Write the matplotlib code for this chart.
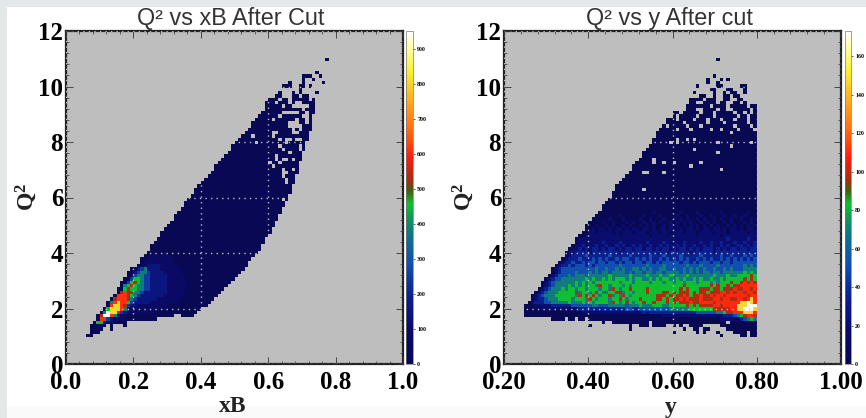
import numpy as np
import matplotlib
matplotlib.use('Agg')
import matplotlib.pyplot as plt
from matplotlib.colors import LinearSegmentedColormap
from matplotlib.patches import Rectangle
from matplotlib.ticker import MultipleLocator

# cell maps: (row, first column, levels), '.' = empty bin
# 100 x 100 bins per panel, levels index into the *_LEVELS lists below
LEFT_LEVELS = [20, 85, 145, 245, 380, 455, 530, 610, 810, 950]
RIGHT_LEVELS = [3, 20, 35, 52, 69, 83, 97, 110, 147, 173]
Z = '0000000000'

LEFT_ROWS = [
    (91, 70, '.......0'),
    (87, 70, '....0'),
    (86, 70, '000..0'),
    (85, 70, '0..0'),
    (84, 60, '......0... 0.....0'),
    (83, 60, '....000..0 0.0'),
    (82, 60, '.........0'),
    (81, 60, '...0...0.0 ....0'),
    (80, 60, '..00...00. 00'),
    (79, 60, '000.00.000 00.0'),
    (78, 50, '.........0 00.000.0.. 0000'),
    (77, 50, '.........0 0000.00... ..00'),
    (76, 50, '.........0 0000000000 .000'),
    (75, 50, '........00 0000.....0 0.00'),
    (74, 50, '.......000 000.000000 ..0'),
    (73, 50, '......0000 0.000000.0 0.0'),
    (72, 50, '.....00000 000000...0 0.0'),
    (71, 50, '.....00000 000000.... 000'),
    (70, 50, '....000000 0000000.0. 000'),
    (69, 50, '...0000000 0..0000..0 00'),
    (68, 50, '..000.0000 0.00000000 00'),
    (67, 50, '.000000000 000.0..0.. 00'),
    (66, 50, '000000.000 00000.0000 0'),
    (65, 40, '.........0 0000000000 000.00000. 0'),
    (64, 40, '.........0 0000000000 0000.0000. 0'),
    (63, 40, '........00 0000000000 000000.000'),
    (62, 40, '.......000 0000000000 00.0000000'),
    (61, 40, '......0000 0000000000 00.0..0.00'),
    (60, 40, '.....00000 0000000000 .00.00000'),
    (59, 40, '....000000 0000000000 0.0000000'),
    (58, 40, '....000000 0000000000 0000.00.0'),
    (57, 40, '...0000000 0000000000 0000..000'),
    (56, 40, '..00000000 0000000000 0000.000'),
    (55, 40, '.000000000 0000000000 00000.00'),
    (54, 40, '0000000000 0000000000 00000.00'),
    (53, 30, '.........0 0000000000 0000000000 0000000'),
    (52, 30, '........00 0000000000 0000000000 0000000'),
    (51, 30, '........00 0000000000 0000000000 0000000'),
    (50, 30, '.......000 0000000000 0000000000 000000'),
    (49, 30, '......0000 0000000000 0000000000 0000.0'),
    (48, 30, '.....00000 0000000000 0000000000 00000'),
    (47, 30, '.....00000 0000000000 0000000000 00000'),
    (46, 30, '....000000 0000000000 0000000000 0000'),
    (45, 30, '...0000000 0000000000 0000000000 0000'),
    (44, 30, '..00000000 0000000000 0000000000 000'),
    (43, 30, '..00000000 0000000000 0000000000 000'),
    (42, 30, '.000000000 0000000000 0000000000 00'),
    (41, 30, '0000000000 0000000000 0000000000 00'),
    (40, 20, '.........0 0000000000 0000000000 0000000000 0'),
    (39, 20, '........00 0000000000 0000000000 0000000000 0'),
    (38, 20, '........00 0000000000 0000000000 0000000000'),
    (37, 20, '.......000 0000000000 0000000000 000000000'),
    (36, 20, '......0000 0000000000 0000000000 000000000'),
    (35, 20, '.....00000 0000000000 0000000000 00000000'),
    (34, 20, '.....00000 0000000000 0000000000 00000000'),
    (33, 20, '....000000 0000000000 0000000000 0000000'),
    (32, 20, '...0011111 1000000000 0000000000 000000'),
    (31, 20, '..00111111 1100000000 0000000000 00000'),
    (30, 20, '..01111111 1100000000 0000000000 0000'),
    (29, 20, '.001222211 1110000000 0000000000 0000'),
    (28, 10, '.........0 0234222211 1111000000 0000000000 000'),
    (27, 10, '........00 2344322221 1111000000 0000000000 00'),
    (26, 10, '........00 3443322222 1111100000 0000000000 0'),
    (25, 10, '.......003 5543322222 1111100000 0000000000'),
    (24, 10, '......0035 6543322222 1111110000 000000000'),
    (23, 10, '......0456 5443322222 1111110000 00000000'),
    (22, 10, '.....00565 5443322222 1111100000 0000000'),
    (21, 10, '.....06766 4432222222 1111100000 000000'),
    (20, 10, '....077765 4322222221 1111100000 00000'),
    (19, 10, '...0677764 3222222111 1111000000 0000'),
    (18, 10, '..04787753 2222211111 1110000000 000'),
    (17, 10, '..07887632 2111111111 1000000000 00'),
    (16, 10, '.058887421 1111111110 0000000000'),
    (15, 10, '0498863211 1111110000 000000000'),
    (14, 0, '.........0 6997421100 0000000000 00..0000'),
    (13, 0, '.........0 7732111000 0000000'),
    (12, 0, '........05 52110000'),
    (11, 0, '.......000 00.0...0'),
    (10, 0, '.......000 0..0'),
    (9, 0, '.......000'),
    (8, 0, '......00'),
]

RIGHT_ROWS = [
    (91, 60, '...0'),
    (86, 60, '..0'),
    (85, 60, '0...0.0'),
    (84, 60, '0..0'),
    (83, 50, '.......0.. ...00..... 00'),
    (82, 60, '.00...00.. .0'),
    (81, 50, '......0... ..0..0.00. .0'),
    (80, 50, '........00 ..0..00.00'),
    (79, 50, '.....0000. 000..00..0 0'),
    (78, 50, '.....00..0 000.00..00 .0'),
    (77, 50, '....000000 0.0000.000 00.00'),
    (76, 50, '....000..0 000.00..00 000.0'),
    (75, 50, '00.00000.0 00.00000.0 0.0.0'),
    (74, 50, '0.00000.00 00.000000. 00.00'),
    (73, 40, '........00 0.0000.000 .000.000.0 00.00'),
    (72, 40, '........00 000.000000 .0000.0000 00.00'),
    (71, 40, '.......0.0 0000.000.0 00000000.0 000.0'),
    (70, 40, '......0000 0.000.0000 0.00.0000. 0000.'),
    (69, 40, '.....00000 0000000000 0000000.00 00000'),
    (68, 40, '.....00000 0000000000 0000000000 00000'),
    (67, 40, '....000000 0.00.0.000 0000000000 00000'),
    (66, 40, '....00000. 0.00000000 000.000000 000.0'),
    (65, 40, '...0000000 0000000000 0000000.00 00000'),
    (64, 40, '..00000000 000000.000 0000000000 00000'),
    (63, 40, '.000000000 0000000000 000.000000 00000'),
    (62, 40, '.000000000 0000000000 0000000000 00000'),
    (61, 40, '0000.00000 0000000000 0000000000 00000'),
    (60, 30, '.........0 0000.00.00 .0000000.0 0000000000 00000'),
    (59, 30, '........00 0000000000 00000.0000 0000000000 00000'),
    (58, 30, '........00 0000000000 0000000000 0000.00000 00000'),
    (57, 30, '.......000 0..0000.00 0000000000 0000000000 00000'),
    (56, 30, '......0000 0000000000 0000000000 0000000000 00000'),
    (55, 30, '.....00000 0000000000 0000000000 0000000000 00000'),
    (54, 30, '....000000 0000000000 0000000000 0000000000 00000'),
    (53, 30, '...0000000 0000000000 0000000000 0000000000 00000'),
    (52, 30, '...0000000 0.00000000 0000000000 0000000000 00000'),
    (51, 30, '..00000000 0000000000 0000000000 0000000000 00000'),
    (50, 30, '..00000000 0000000000 0000000000 0000000000 00000'),
    (49, 30, '.000000000 0000000000 0000000000 0000000000 00000'),
    (48, 30, '0000000000 0000000000 0000000000 0000000000 00000'),
    (47, 20, '.........0 0000000000 0000000000 0000000000 0000000000 00000'),
    (46, 20, '.........0 0000000000 0000000000 0000000000 0000000000 00000'),
    (45, 20, '........00 0000000000 0000100000 0010000100 0000100000 00100'),
    (44, 20, '.......000 0000100000 0100001000 0100100010 0100010010 01000'),
    (43, 20, '......0000 0100010000 1001000100 0010100101 0010100100 10010'),
    (42, 20, '.....00001 0010001010 0100101001 0101010010 1010010100 01010'),
    (41, 20, '....000100 1010010100 1010100101 0101010101 0101001010 10101'),
    (40, 20, '....001011 0101101011 0110101101 1010110101 1011010110 10110'),
    (39, 20, '...0011011 1101011101 1101110110 1110111011 1101110111 11011'),
    (38, 20, '..00111111 1111011111 1110111101 1111111011 1111011111 11111'),
    (37, 20, '.011111111 1111111111 1111111111 1111111111 1111112111 11211'),
    (36, 20, '.011111112 1111211111 1121111211 1112111121 1211211121 12112'),
    (35, 20, '0112111211 2112121121 2112112121 1212112112 1211212112 21212'),
    (34, 10, '.........0 1121212212 1221212212 2122121221 2122121212 2212121221 22122'),
    (33, 10, '........01 1222212222 2222122222 2222222212 2222212222 2212222222 22222'),
    (32, 10, '........01 2222322222 2322222322 2223222322 2232222232 2222322322 23232'),
    (31, 10, '.......012 2232223232 3223233223 2323223232 3232322323 2322323232 32323'),
    (30, 10, '......0122 3223233233 2332323323 3233232333 3323323233 3233233233 33333'),
    (29, 10, '.....01223 2333232333 3333433333 3343333433 3333433343 3334333333 34343'),
    (28, 10, '....012333 3333333433 4334343344 3434334433 4334343434 3343343433 34444'),
    (27, 10, '....012333 3433343434 4344443434 4344344344 4434343434 4344344444 45454'),
    (26, 10, '...0123334 3444344444 4544444544 4454445445 4444544444 4454445445 55565'),
    (25, 10, '..01233444 4444545445 4545554545 5445454554 4545445454 4544545555 56565'),
    (24, 10, '.012344444 4545454555 5555455545 5554555455 4554555455 5454555655 67676'),
    (23, 10, '.012344445 4545455465 5455545455 5555555555 5556555555 5656556566 77777'),
    (22, 10, '0123444545 5455455545 5465455655 5565555555 5565655566 6566566676 67767'),
    (21, 0, '.........0 1234445555 5645545654 4556645545 5565555665 6566656566 5666776767 76776'),
    (20, 0, '........01 2344455555 5465656545 5645465455 5555566656 5667656676 6767767777 77677'),
    (19, 0, '........01 2234445555 4555465455 5455654555 6555566565 6676766676 6677677667 76787'),
    (18, 0, '.......012 2233444445 4445454555 5465456545 5655655565 6566676677 7767777777 88987'),
    (17, 0, '......0001 1111222222 3333334433 3444443444 5444555445 5555656566 6677677778 88999'),
    (16, 0, '......0000 0111111111 1122222222 2222223322 3333333334 4444455555 5566666778 89998'),
    (15, 0, '......0000 0000000000 0001111111 1111111111 1212222222 2222222333 3334456677 78887'),
    (14, 0, '......0000 ' + Z + ' ' + Z + ' ' + Z + ' 0000000111 1111111111 1111122234 56776'),
    (13, 10, '....0000.0 0.00.00000 ' + Z + ' ' + Z + ' ' + Z + ' 0000111111 23454'),
    (12, 20, '.........0 ..00000000 000.000000 ' + Z + ' 000000.000 00000'),
    (11, 20, '.....0.... .......0.. 000.0000.. 0.0..0000. ....000000 00000'),
    (10, 30, '.......0.. .......... ...0..00.0 0.....0000 00000'),
    (9, 50, '0......0.0 ...0....00 00.00'),
    (8, 60, '....0..... 00.00'),
]

LEFT_CBAR_TICKS = [0, 100, 200, 300, 400, 500, 600, 700, 800, 900]
RIGHT_CBAR_TICKS = [0, 20, 40, 60, 80, 100, 120, 140, 160]
LEFT_XTICKS = [0.0, 0.2, 0.4, 0.6, 0.8, 1.0]
RIGHT_XTICKS = [0.2, 0.4, 0.6, 0.8, 1.0]
YTICKS = [0, 2, 4, 6, 8, 10, 12]

plt.rcParams['font.family'] = ['Liberation Serif']
plt.rcParams['font.weight'] = 'bold'
plt.rcParams['mathtext.fontset'] = 'custom'
plt.rcParams['mathtext.bf'] = 'Liberation Serif:bold'
plt.rcParams['mathtext.rm'] = 'Liberation Serif:bold'

root_cmap = LinearSegmentedColormap.from_list('root', [
    (0.00, '#08084f'), (0.10, '#0a0a68'), (0.20, '#0a1f90'), (0.30, '#1050b0'),
    (0.38, '#106f90'), (0.43, '#109060'), (0.48, '#10c030'), (0.52, '#406010'),
    (0.55, '#a03010'), (0.62, '#ff1a10'), (0.70, '#ff6a10'), (0.80, '#ffb020'),
    (0.88, '#f8f030'), (0.95, '#ffffa0'), (1.00, '#ffffff')])

W, H = 866, 418
fig = plt.figure(figsize=(W / 100, H / 100), dpi=100, facecolor='white')


def px_axes(x0, x1, y0, y1):
    return fig.add_axes([x0 / W, 1 - y1 / H, (x1 - x0) / W, (y1 - y0) / H])


def to_grid(rows, levels):
    grid = np.full((100, 100), np.nan)
    for row, start, text in rows:
        for i, ch in enumerate(text.replace(' ', '')):
            if ch != '.':
                grid[row, start + i] = levels[int(ch)]
    return np.ma.masked_invalid(grid)


def draw_panel(box, cbar_box, rows, levels, xlim, xticks, xfmt, xminor, cticks,
               title, title_x, xlabel, xlabel_x, ylabel_x):
    ax = px_axes(*box)
    ax.set_facecolor('#bebebe')
    xedges = np.linspace(xlim[0], xlim[1], 101)
    yedges = np.linspace(0, 12, 101)
    mesh = ax.pcolormesh(xedges, yedges, to_grid(rows, levels), cmap=root_cmap,
                         vmin=0, vmax=levels[-1], antialiased=False)
    ax.set_xlim(*xlim)
    ax.set_ylim(0, 12)
    ax.set_xticks(xticks)
    ax.set_xticklabels([xfmt % t for t in xticks])
    ax.set_yticks(YTICKS)
    ax.xaxis.set_minor_locator(MultipleLocator(xminor))
    ax.yaxis.set_minor_locator(MultipleLocator(0.4))
    ax.tick_params(which='major', direction='in', length=5, width=0.6, top=True,
                   right=True, color='#333333', labelsize=18)
    ax.tick_params(which='minor', direction='in', length=2.5, width=0.5, top=True,
                   right=True, color='#333333')
    ax.tick_params(axis='x', which='major', pad=5)
    ax.tick_params(axis='y', which='major', pad=2)
    ax.grid(True, which='major', color='#bebebe', linewidth=1.0,
            linestyle=(0, (1, 3)))
    ax.set_axisbelow(False)
    for sp in ax.spines.values():
        sp.set_linewidth(1.6)
        sp.set_color('#222222')

    cax = px_axes(*cbar_box)
    cb = fig.colorbar(mesh, cax=cax)
    cb.set_ticks(cticks)
    cb.ax.tick_params(length=1.5, width=0.5, labelsize=4.2, pad=1.5, color='#222222')
    cb.outline.set_linewidth(0.5)
    cb.outline.set_edgecolor('#777777')

    fig.text(title_x / W, 1 - 19 / H, title, family='Liberation Sans', weight='normal',
             fontsize=16.8, color='#333333', ha='center', va='center')
    fig.text(xlabel_x / W, 1 - 407 / H, xlabel, fontsize=17, ha='center', va='center',
             color='#222222')
    fig.text(ylabel_x / W, 1 - 197 / H, r'$\mathbf{Q^2}$', fontsize=17, rotation=90,
             ha='center', va='center', color='#222222')
    return ax


fig.add_artist(Rectangle((0, 1 - 7 / H), 1, 7 / H, transform=fig.transFigure,
                         facecolor='#e3e8e8', edgecolor='none', zorder=5))
fig.add_artist(Rectangle((0, 0), 7 / W, 1, transform=fig.transFigure,
                         facecolor='#e3e8e8', edgecolor='none', zorder=5))
fig.add_artist(Rectangle((7 / W, 0), 1, 12 / H, transform=fig.transFigure,
                         facecolor='#fafafa', edgecolor='none', zorder=-5))

draw_panel((66, 403, 31, 364), (406, 413, 31, 364), LEFT_ROWS, LEFT_LEVELS,
           (0.0, 1.0), LEFT_XTICKS, '%.1f', 0.04, LEFT_CBAR_TICKS,
           'Q² vs xB After Cut', 231, 'xB', 233, 26)
draw_panel((504, 841, 31, 364), (845, 851, 31, 364), RIGHT_ROWS, RIGHT_LEVELS,
           (0.2, 1.0), RIGHT_XTICKS, '%.2f', 0.04, RIGHT_CBAR_TICKS,
           'Q² vs y After cut', 669, 'y', 671, 463)

fig.savefig('out.png', dpi=100)
